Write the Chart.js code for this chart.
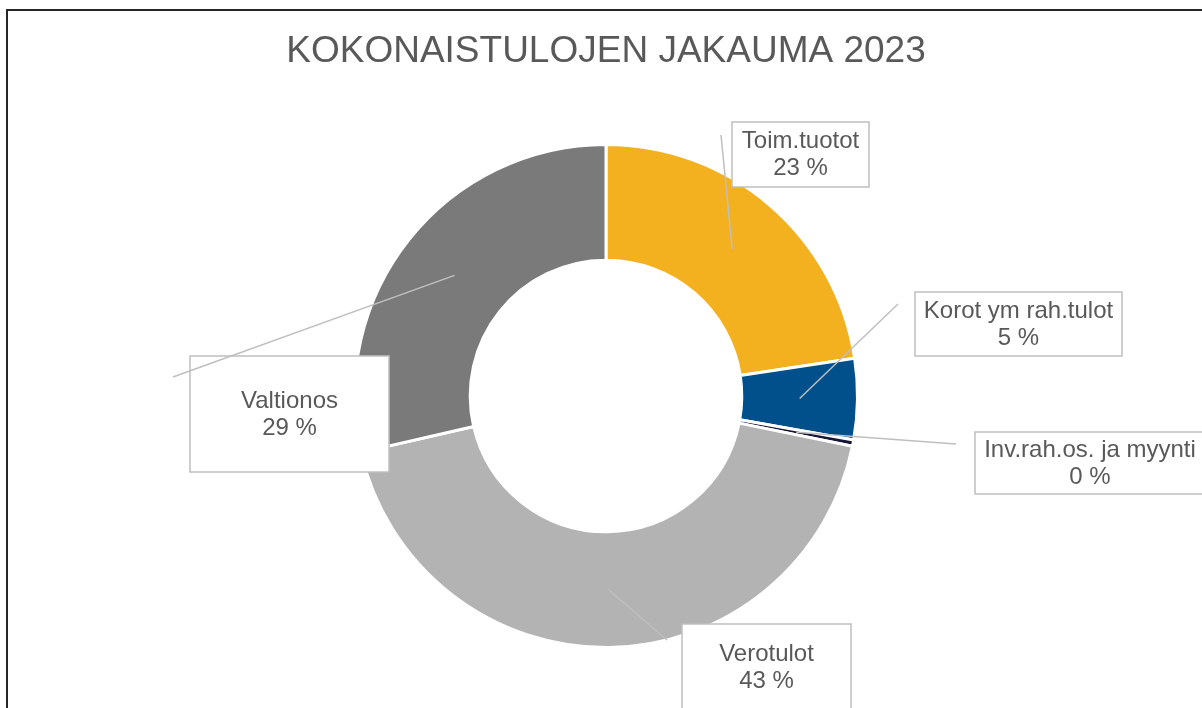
<!DOCTYPE html>
<html>
<head>
<meta charset="utf-8">
<script src="https://cdn.jsdelivr.net/npm/chart.js@4/dist/chart.umd.min.js"></script>
<style>
  html, body { margin: 0; padding: 0; background: #ffffff; }
  #wrap { width: 1202px; height: 708px; }
</style>
</head>
<body>
<div id="wrap"><canvas id="chart" width="1202" height="708"></canvas></div>
<script>
// Kokonaistulojen jakauma 2023 (osuus %, luettu kuvasta)
const categories = ["Toim.tuotot", "Korot ym rah.tulot", "Inv.rah.os. ja myynti", "Verotulot", "Valtionos"];
const shares = [22.6, 5.2, 0.4, 43.2, 28.6];
const sliceColors = ["#F3B11F", "#014F8B", "#161636", "#B3B3B3", "#7A7A7A"];
const chartTitle = "KOKONAISTULOJEN JAKAUMA 2023";

// label boxes, relative to the doughnut centre: box centre, box size, leader end
const labelLayout = [
    { dx: 194.5, dy: -241.5, w: 137, h: 65, ex: 115, ey: -261 },
    { dx: 412.5, dy: -72, w: 207, h: 64, ex: 292, ey: -92 },
    { dx: 484, dy: 67, w: 230, h: 62, ex: 350, ey: 48 },
    { dx: 160.5, dy: 271, w: 169, h: 86, ex: 61, ey: 244 },
    { dx: -316.5, dy: 18, w: 199, h: 116, ex: -433, ey: -19 },
];

const FONT = "'Liberation Sans', Arial, sans-serif";
const TEXT_COLOR = "#595959";
const LINE_COLOR = "#BFBFBF";

const decorPlugin = {
    id: "decor",
    beforeDraw(chart) {
        const ctx = chart.ctx;
        ctx.save();
        ctx.fillStyle = TEXT_COLOR;
        ctx.font = `37px ${FONT}`;
        ctx.textAlign = "center";
        ctx.textBaseline = "middle";
        ctx.fillText(chartTitle, 606, 52);
        ctx.restore();
    },
    afterDatasetsDraw(chart) {
        const ctx = chart.ctx;
        const meta = chart.getDatasetMeta(0);
        const first = meta.data[0];
        const cx = first.x, cy = first.y;
        const total = shares.reduce((a, b) => a + b, 0);

        ctx.save();
        // white boxes
        labelLayout.forEach((l) => {
            const x = cx + l.dx - l.w / 2, y = cy + l.dy - l.h / 2;
            ctx.fillStyle = "#ffffff";
            ctx.fillRect(x, y, l.w, l.h);
            ctx.strokeStyle = LINE_COLOR;
            ctx.lineWidth = 1.5;
            ctx.strokeRect(x, y, l.w, l.h);
        });
        // leader lines from the arc centroid
        meta.data.forEach((arc, i) => {
            const p = arc.tooltipPosition();
            const l = labelLayout[i];
            ctx.beginPath();
            ctx.moveTo(p.x, p.y);
            ctx.lineTo(cx + l.ex, cy + l.ey);
            ctx.strokeStyle = LINE_COLOR;
            ctx.lineWidth = 1.5;
            ctx.stroke();
        });
        // texts
        ctx.fillStyle = TEXT_COLOR;
        ctx.font = `24px ${FONT}`;
        ctx.textAlign = "center";
        ctx.textBaseline = "middle";
        labelLayout.forEach((l, i) => {
            const pct = Math.round((shares[i] / total) * 100);
            ctx.fillText(categories[i], cx + l.dx, cy + l.dy - 13);
            ctx.fillText(`${pct} %`, cx + l.dx, cy + l.dy + 14);
        });
        // outer frame
        ctx.strokeStyle = "#262626";
        ctx.lineWidth = 2;
        ctx.strokeRect(7, 10, 1210, 720);
        ctx.restore();
    },
};

new Chart(document.getElementById("chart"), {
    type: "doughnut",
    data: {
        labels: categories,
        datasets: [
            {
                data: shares,
                backgroundColor: sliceColors,
                borderColor: "#ffffff",
                borderWidth: 3,
            },
        ],
    },
    options: {
        responsive: false,
        animation: false,
        cutout: "54%",
        layout: { padding: { top: 143, bottom: 59, left: 10, right: 0 } },
        plugins: {
            legend: { display: false },
            tooltip: { enabled: false },
            title: { display: false },
        },
    },
    plugins: [decorPlugin],
});
</script>
</body>
</html>
